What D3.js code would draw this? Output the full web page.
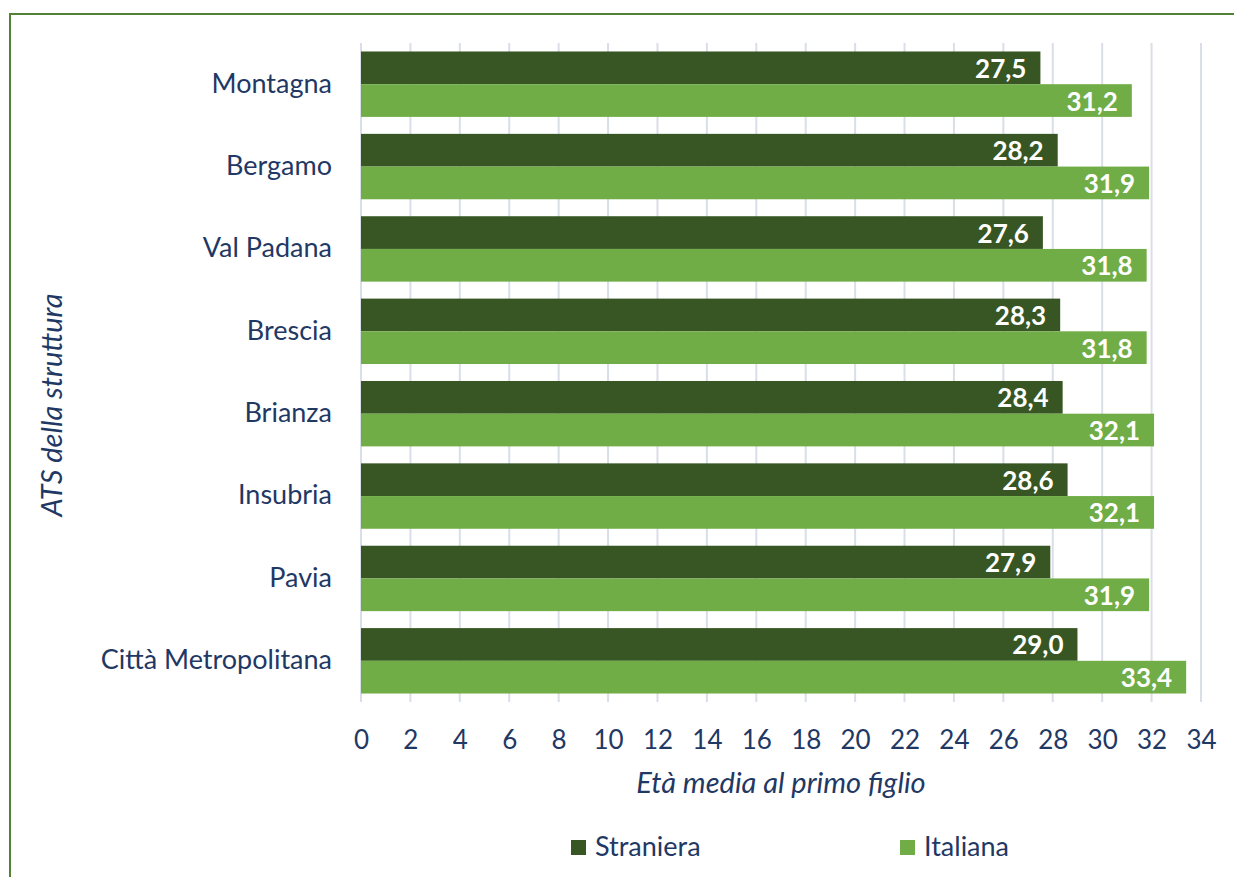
<!DOCTYPE html>
<html><head><meta charset="utf-8">
<script src="https://cdn.jsdelivr.net/npm/d3@7"></script>
<style>
html,body{margin:0;padding:0;background:#fff;}
svg{display:block;}
text{font-family:Lato, "Open Sans", sans-serif;}
</style></head>
<body>
<svg id="chart" width="1234" height="877"></svg>
<script>
const categories = ["Montagna","Bergamo","Val Padana","Brescia","Brianza","Insubria","Pavia","Città Metropolitana"];
const straniera = [27.5,28.2,27.6,28.3,28.4,28.6,27.9,29.0];
const italiana  = [31.2,31.9,31.8,31.8,32.1,32.1,31.9,33.4];
const seriesNames = ["Straniera","Italiana"];
const xTicks = [0,2,4,6,8,10,12,14,16,18,20,22,24,26,28,30,32,34];

const colors = {Straniera:"#375623", Italiana:"#70AD47"};
const navy = "#1F3864";
const svg = d3.select("#chart");

// outer border
svg.append("rect").attr("x",10).attr("y",14).attr("width",1400).attr("height",1000)
  .attr("fill","none").attr("stroke","#548235").attr("stroke-width",2);

const plot = {left:361, right:1201, top:43, bottom:702};
const x = d3.scaleLinear().domain([0,34]).range([plot.left, plot.right]);
const y0 = d3.scaleBand().domain(categories).range([plot.top, plot.bottom]).paddingInner(0.206).paddingOuter(0.103);
const y1 = d3.scaleBand().domain(seriesNames).range([0, y0.bandwidth()]);

// gridlines
svg.append("g").selectAll("line").data(xTicks).join("line")
  .attr("x1",d=>x(d)).attr("x2",d=>x(d))
  .attr("y1",plot.top).attr("y2",plot.bottom)
  .attr("stroke","#D9DEE8").attr("stroke-width",2);

// bars
const rows = categories.map((c,i)=>({cat:c, vals:[{s:"Straniera",v:straniera[i]},{s:"Italiana",v:italiana[i]}]}));
const g = svg.append("g").selectAll("g").data(rows).join("g")
  .attr("transform",d=>`translate(0,${y0(d.cat)})`);
g.selectAll("rect").data(d=>d.vals).join("rect")
  .attr("x",x(0)).attr("y",d=>y1(d.s)).attr("width",d=>x(d.v)-x(0)).attr("height",y1.bandwidth())
  .attr("fill",d=>colors[d.s]);
g.selectAll("text").data(d=>d.vals).join("text")
  .attr("x",d=>x(d.v)-14).attr("y",d=>y1(d.s)+y1.bandwidth()/2+10)
  .attr("text-anchor","end").attr("fill","#fff").attr("font-weight","bold").attr("font-size",26)
  .text(d=>d.v.toFixed(1).replace(".",","));

// category labels
const yAxis = d3.axisLeft(y0).tickSize(0).tickPadding(29);
const ya = svg.append("g").attr("transform",`translate(${plot.left},0)`).call(yAxis);
ya.select(".domain").remove();
ya.selectAll("text").attr("font-size",27).attr("fill",navy).attr("font-family","Lato, sans-serif").attr("dy","0.31em");

// x axis labels
const xAxis = d3.axisBottom(x).tickValues(xTicks).tickSize(0).tickPadding(29).tickFormat(d=>d);
const xa = svg.append("g").attr("transform",`translate(0,${plot.bottom})`).call(xAxis);
xa.select(".domain").remove();
xa.selectAll("text").attr("font-size",26).attr("fill",navy).attr("font-family","Lato, sans-serif");

// axis titles
svg.append("text").attr("x",781).attr("y",793).attr("text-anchor","middle")
  .attr("font-size",29).attr("font-style","italic").attr("fill",navy).text("Età media al primo figlio");
svg.append("text").attr("transform","translate(62,405) rotate(-90)").attr("text-anchor","middle")
  .attr("font-size",29).attr("font-style","italic").attr("fill",navy).text("ATS della struttura");

// legend
const legX = {Straniera:571, Italiana:900};
const lg = svg.append("g").selectAll("g").data(seriesNames).join("g")
  .attr("transform",d=>`translate(${legX[d]},840)`);
lg.append("rect").attr("width",15).attr("height",15).attr("fill",d=>colors[d]);
lg.append("text").attr("x",24).attr("y",16).attr("font-size",27).attr("fill",navy).text(d=>d);
</script>
</body></html>
